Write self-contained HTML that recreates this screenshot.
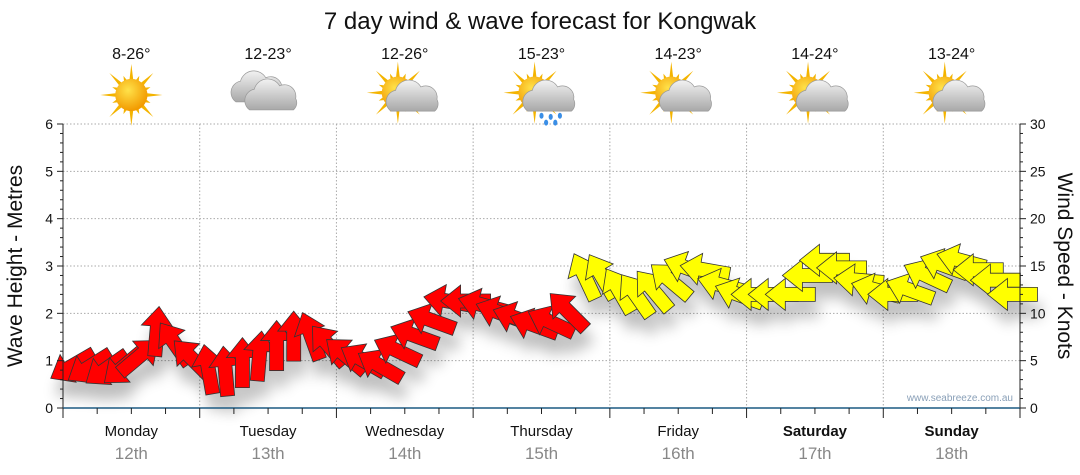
<!DOCTYPE html>
<html><head><meta charset="utf-8"><style>
body{margin:0;background:#fff;width:1080px;height:475px;overflow:hidden;font-family:"Liberation Sans","DejaVu Sans",sans-serif}
svg{display:block}
</style></head><body>
<svg id="chart" width="1080" height="475" viewBox="0 0 1080 475" xmlns="http://www.w3.org/2000/svg">
<defs>
<filter id="sh" x="-50%" y="-50%" width="200%" height="200%"><feGaussianBlur stdDeviation="7"/></filter>
<radialGradient id="sunG" cx="40%" cy="35%" r="65%"><stop offset="0" stop-color="#ffe24a"/><stop offset="1" stop-color="#f29a00"/></radialGradient>
<linearGradient id="cloudG" x1="0" y1="0" x2="0" y2="1"><stop offset="0" stop-color="#f2f2f2"/><stop offset="1" stop-color="#a8a8a8"/></linearGradient>
</defs>
<text x="540" y="29" text-anchor="middle" font-size="24" fill="#111">7 day wind &amp; wave forecast for Kongwak</text>
<g id="grid"></g>
<g id="icons"></g>
<g id="shadows" filter="url(#sh)" opacity="0.25"></g>
<g id="arrows"></g>
<g id="axes"></g>
<text transform="translate(22,266) rotate(-90)" text-anchor="middle" font-size="21" fill="#111">Wave Height - Metres</text>
<text transform="translate(1058,266) rotate(90)" text-anchor="middle" font-size="21" fill="#111">Wind Speed - Knots</text>
<text x="1013" y="401" text-anchor="end" font-size="10" fill="#8aa0b8">www.seabreeze.com.au</text>
</svg>
<script>
const days = ["Monday","Tuesday","Wednesday","Thursday","Friday","Saturday","Sunday"];
const dates = ["12th","13th","14th","15th","16th","17th","18th"];
const temps = ["8-26°","12-23°","12-26°","15-23°","14-23°","14-24°","13-24°"];
const weather = ["sun","cloud","suncloud","rain","suncloud","suncloud","suncloud"];
const leftTicks = [0,1,2,3,4,5,6];
const rightTicks = [0,5,10,15,20,25,30];
// wind speed (knots) every 3 hours
const windSpeed = [4.4,4.3,4.1,4.3,5.5,8.2,6.9,5.3,
 4.2,4.0,4.9,5.6,6.7,7.7,7.7,6.7,
 5.6,5.1,4.5,6.1,7.7,9.3,11.3,11.3,
 10.9,10.1,9.5,8.8,9.1,10.3,14.0,14.0,
 12.5,12.0,12.5,13.5,14.8,14.6,13.0,12.0,
 12.0,12.0,12.0,14.0,15.6,14.8,13.5,12.5,
 12.0,12.5,14.0,15.1,15.6,14.6,13.5,12.0];
// arrow heading in degrees (0=east/right, clockwise on screen)
const windDir = [150,148,145,140,-40,-85,-125,-135,
 -100,-95,-90,-85,-90,-90,-110,-130,
 -140,-150,-150,-155,-160,-160,-170,180,
 -165,-160,-160,-160,-155,-135,-115,-120,
 -120,-125,-130,-140,-160,-170,-165,-160,
 180,180,180,180,180,180,-175,-165,
 180,-160,-155,-160,-165,180,180,180];
const X0=63,X1=1020,Y0=408,Y1=124;
const dayW=(X1-X0)/7;
const xH = h => X0 + h/24*dayW;
const yM = m => Y0 - m/6*(Y0-Y1);
const yK = k => Y0 - k/30*(Y0-Y1);
const NS="http://www.w3.org/2000/svg";
function mk(tag,attrs,parent,txt){const e=document.createElementNS(NS,tag);for(const k in attrs)e.setAttribute(k,attrs[k]);if(txt!==undefined)e.textContent=txt;parent.appendChild(e);return e;}
const grid=document.getElementById('grid'),axes=document.getElementById('axes'),icons=document.getElementById('icons');
leftTicks.forEach(t=>{if(t>0){const l=mk('line',{x1:X0,x2:X1,y1:yM(t),y2:yM(t),stroke:'#aaa','stroke-dasharray':'1.5,2'},grid);

}});
for(let d=1;d<7;d++){const l=mk('line',{x1:xH(d*24),x2:xH(d*24),y1:Y1,y2:Y0,stroke:'#aaa','stroke-dasharray':'1.5,2'},grid);

}
mk('line',{x1:X0,x2:X0,y1:Y1,y2:Y0,stroke:'#222'},axes);
mk('line',{x1:X1,x2:X1,y1:Y1,y2:Y0,stroke:'#222'},axes);
mk('line',{x1:X0,x2:X1,y1:Y0,y2:Y0,stroke:'#1c5a82','stroke-width':1.5},axes);
leftTicks.forEach(t=>{mk('line',{x1:X0-6,x2:X0,y1:yM(t),y2:yM(t),stroke:'#222'},axes);
const tx=mk('text',{x:X0-10,y:yM(t)+5,'text-anchor':'end','font-size':14,fill:'#111'},axes,t);


if(t<6)for(let s=1;s<5;s++)mk('line',{x1:X0-3,x2:X0,y1:yM(t+s/5),y2:yM(t+s/5),stroke:'#222'},axes);});
rightTicks.forEach(t=>{mk('line',{x1:X1,x2:X1+6,y1:yK(t),y2:yK(t),stroke:'#222'},axes);
const tx=mk('text',{x:X1+10,y:yK(t)+5,'font-size':14,fill:'#111'},axes,t);


if(t<30)for(let s=1;s<5;s++)mk('line',{x1:X1,x2:X1+3,y1:yK(t+s),y2:yK(t+s),stroke:'#222'},axes);});
for(let h=0;h<=168;h+=6){const maj=h%24==0;mk('line',{x1:xH(h),x2:xH(h),y1:Y0,y2:Y0+(maj?10:6),stroke:'#222'},axes);}
days.forEach((d,i)=>{const cx=xH(i*24+12);const bold=i>=5;
const a=mk('text',{x:cx,y:436,'text-anchor':'middle','font-size':15,fill:'#111','font-weight':bold?'bold':'normal'},axes,d);


const b=mk('text',{x:cx,y:459,'text-anchor':'middle','font-size':17,fill:'#888'},axes,dates[i]);


const c=mk('text',{x:cx,y:59,'text-anchor':'middle','font-size':16,fill:'#111'},icons,temps[i]);


const g=mk('g',{transform:`translate(${cx},95) scale(1.15)`},icons);


const w=weather[i];
function sun(dx,dy){for(let r=0;r<16;r++){const ang=r*Math.PI/8,L=r%2?18:27;mk('polygon',{points:`${dx+Math.cos(ang)*L},${dy+Math.sin(ang)*L} ${dx+Math.cos(ang+0.15)*12},${dy+Math.sin(ang+0.15)*12} ${dx+Math.cos(ang-0.15)*12},${dy+Math.sin(ang-0.15)*12}`,fill:'#f4b400'},g);}
mk('circle',{cx:dx,cy:dy,r:14,fill:'url(#sunG)'},g);}
function cloud(dx,dy){mk('path',{d:`M${dx-20},${dy+10} a10 10 0 0 1 4,-18 a12 12 0 0 1 22,-3 a10 10 0 0 1 14,11 a8 8 0 0 1 -2,10 z`,fill:'url(#cloudG)',stroke:'#999','stroke-width':0.6},g);}
if(w=='sun')sun(0,0);
else if(w=='cloud'){cloud(-8,-4);cloud(4,3);}
else{sun(-6,-2);cloud(8,4);if(w=='rain'){[[0,18],[8,19],[16,18],[4,24],[12,24]].forEach(p=>mk('ellipse',{cx:p[0],cy:p[1],rx:1.8,ry:2.6,fill:'#3a8ee6'},g));}}
});
const arrows=document.getElementById('arrows'),shadows=document.getElementById('shadows');
const pts="-26,-7 4,-7 4,-16 24,0 4,16 4,7 -26,7";
windSpeed.forEach((k,i)=>{const x=xH(i*3+1.5),y=yK(k),col=k>=11.7?'#ffff00':'#ff0000';
mk('polygon',{points:pts,fill:'#000',transform:`translate(${x+4},${y+16}) rotate(${windDir[i]})`},shadows);
const p=mk('polygon',{points:pts,fill:col,stroke:'#333','stroke-width':0.8,transform:`translate(${x},${y}) rotate(${windDir[i]})`},arrows);

});
</script>
</body></html>
